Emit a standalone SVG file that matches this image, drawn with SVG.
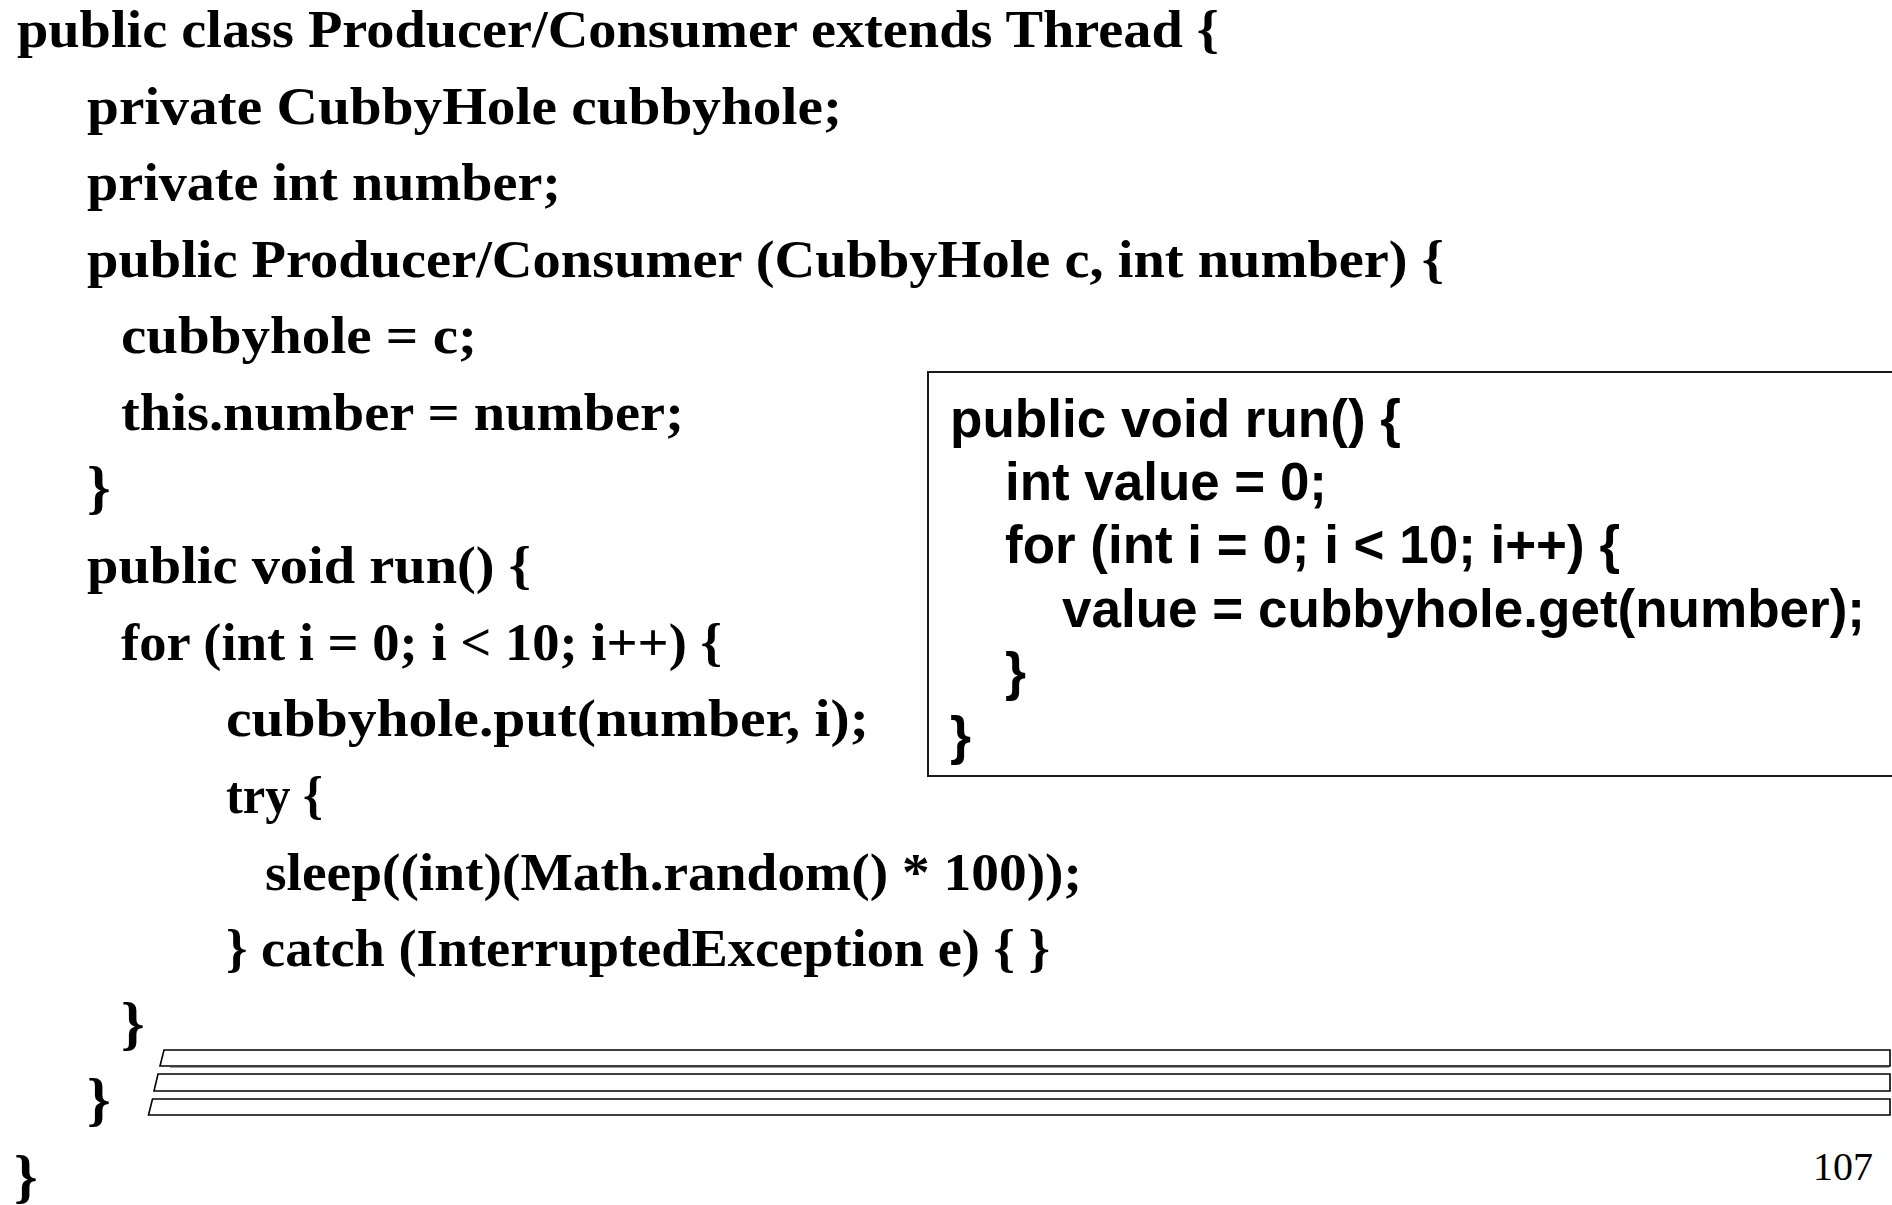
<svg xmlns="http://www.w3.org/2000/svg" width="1892" height="1205" viewBox="0 0 1892 1205">
  <style>
    .code { font-family: "Liberation Serif", "Times New Roman", serif; font-weight: bold; font-size: 52px; fill: #000; }
    .brace { font-size: 60px; }
    .run { font-family: "Liberation Sans", Arial, sans-serif; font-weight: bold; font-size: 54px; fill: #000; }
    .page { font-family: "Liberation Serif", "Times New Roman", serif; font-size: 40px; fill: #000; }
    .box { fill: #fff; stroke: #1a1a1a; stroke-width: 2; }
    .bar { fill: #fff; stroke: #000; stroke-width: 1.6; stroke-linejoin: miter; }
  </style>
  <rect width="1892" height="1205" fill="#fff"/>

  <!-- Producer/Consumer class listing -->
  <g id="class-code" class="code">
    <text x="17" y="47" textLength="1202" lengthAdjust="spacingAndGlyphs">public class Producer/Consumer extends Thread {</text>
    <text x="87" y="123.6" textLength="755" lengthAdjust="spacingAndGlyphs">private CubbyHole cubbyhole;</text>
    <text x="87" y="200.2" textLength="474" lengthAdjust="spacingAndGlyphs">private int number;</text>
    <text x="87" y="276.8" textLength="1357" lengthAdjust="spacingAndGlyphs">public Producer/Consumer (CubbyHole c, int number) {</text>
    <text x="121" y="353.4" textLength="356" lengthAdjust="spacingAndGlyphs">cubbyhole = c;</text>
    <text x="121" y="430" textLength="563" lengthAdjust="spacingAndGlyphs">this.number = number;</text>
    <text class="brace" x="87" y="506.6">}</text>
    <text x="87" y="583.2" textLength="444" lengthAdjust="spacingAndGlyphs">public void run() {</text>
    <text x="121" y="659.8" textLength="601" lengthAdjust="spacingAndGlyphs">for (int i = 0; i &lt; 10; i++) {</text>
    <text x="226" y="736.4" textLength="643" lengthAdjust="spacingAndGlyphs">cubbyhole.put(number, i);</text>
    <text x="226" y="813" textLength="97" lengthAdjust="spacingAndGlyphs">try {</text>
    <text x="265" y="889.6" textLength="817" lengthAdjust="spacingAndGlyphs">sleep((int)(Math.random() * 100));</text>
    <text x="226" y="966.2" textLength="824" lengthAdjust="spacingAndGlyphs">} catch (InterruptedException e) { }</text>
    <text class="brace" x="121" y="1042.8">}</text>
    <text class="brace" x="87" y="1119.4">}</text>
    <text class="brace" x="14" y="1196">}</text>
  </g>

  <!-- Consumer run() method in a framed box -->
  <g id="consumer-run">
    <rect class="box" x="928" y="372" width="1000" height="404"/>
    <g class="run">
      <text x="950" y="437" textLength="451" lengthAdjust="spacingAndGlyphs">public void run() {</text>
      <text x="1005" y="500" textLength="322" lengthAdjust="spacingAndGlyphs">int value = 0;</text>
      <text x="1005" y="563" textLength="615" lengthAdjust="spacingAndGlyphs">for (int i = 0; i &lt; 10; i++) {</text>
      <text x="1062" y="627" textLength="803" lengthAdjust="spacingAndGlyphs">value = cubbyhole.get(number);</text>
      <text x="1005" y="690">}</text>
      <text x="950" y="754">}</text>
    </g>
  </g>

  <!-- stacked slanted bars -->
  <g id="bars">
    <line x1="170" y1="1067.3" x2="1889" y2="1067.3" stroke="#9a9a9a" stroke-width="1.2"/>
    <polygon class="bar" points="164,1050 1890,1050 1890,1066 160,1066"/>
    <polygon class="bar" points="158,1074 1890,1074 1890,1091 154,1091"/>
    <polygon class="bar" points="152.5,1099 1890,1099 1890,1115 148.5,1115"/>
  </g>

  <g id="page-number">
    <text class="page" x="1873" y="1180" text-anchor="end">107</text>
  </g>
</svg>
